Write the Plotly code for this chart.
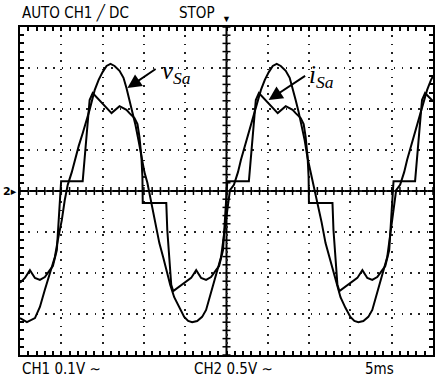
import plotly.graph_objects as go

# ---- data (time in ms, amplitude in screen divisions) ----
t_v = [0.00, 0.84, 1.81, 2.41, 3.01, 3.61, 4.22, 4.58, 5.06, 5.42, 5.78, 6.27, 6.63, 7.11, 7.59, 8.07,
       8.43, 9.04, 9.52, 10.00, 10.48, 10.96, 11.45, 12.05, 12.53, 12.89, 13.25, 13.61, 13.98, 14.34,
       14.70, 15.06, 15.42, 15.78, 16.02, 16.39, 16.87, 17.35, 17.71, 18.19, 18.67, 19.28, 19.88,
       20.36, 20.84, 21.45, 22.05, 22.53, 23.13, 23.73, 24.34, 24.70, 25.06, 25.42,
       25.90, 26.39, 26.75, 27.23, 27.71, 28.19, 28.55, 29.16, 29.64, 30.12, 30.60, 31.08, 31.57,
       32.17, 32.65, 33.01, 33.37, 33.73, 34.10, 34.46, 34.82, 35.18, 35.54, 35.90, 36.14, 36.51,
       36.99, 37.47, 37.83, 38.31, 38.80, 39.40, 40.00, 40.48, 40.96, 41.57, 42.17, 42.65, 43.25,
       43.86, 44.46, 44.82, 45.18, 45.54, 46.02, 46.51, 46.87, 47.35, 47.83, 48.31, 48.67, 49.28,
       49.76, 50.00]
v_sa = [-3.10, -3.20, -3.10, -2.83, -2.41, -1.98, -1.61, -1.20, -0.71, -0.22, 0.15, 0.46, 0.76, 1.10,
        1.41, 1.73, 1.98, 2.46, 2.71, 2.90, 3.05, 3.10, 3.05, 2.93, 2.76, 2.51, 2.22, 1.93, 1.61, 1.24,
        0.80, 0.46, 0.20, -0.15, -0.41, -0.76, -1.27, -1.63, -1.93, -2.29, -2.59, -2.85, -3.07, -3.17,
        -3.20, -3.17, -3.07, -2.90, -2.46, -2.00, -1.61, -1.07, -0.46, 0.02,
        0.15, 0.46, 0.76, 1.10, 1.41, 1.73, 1.98, 2.46, 2.71, 2.90, 3.05, 3.10, 3.05, 2.93, 2.76, 2.51,
        2.22, 1.93, 1.61, 1.24, 0.80, 0.46, 0.20, -0.15, -0.41, -0.76, -1.27, -1.63, -1.93, -2.29,
        -2.59, -2.85, -3.07, -3.17, -3.20, -3.17, -3.07, -2.90, -2.46, -2.00, -1.61, -1.07, -0.46, 0.02,
        0.15, 0.46, 0.76, 1.10, 1.41, 1.73, 1.98, 2.46, 2.71, 2.80]

t_i = [0.00, 0.60, 1.20, 1.81, 2.41, 3.01, 3.61, 3.98, 4.46, 4.70, 4.94, 4.98, 7.59, 7.71, 7.95, 8.19,
       8.43, 8.80, 11.08, 12.05, 12.89, 13.25, 13.86, 14.22, 14.46, 14.70, 14.82, 14.86, 17.71, 17.83,
       18.07, 18.31, 18.55, 19.88, 20.72, 21.33, 21.93, 22.53, 23.13, 23.73, 24.10, 24.58, 24.82,
       25.06, 25.10, 27.71, 27.83, 28.07, 28.31, 28.55, 28.92, 31.20, 32.17, 33.01, 33.37, 33.98,
       34.34, 34.58, 34.82, 34.94, 34.98, 37.83, 37.95, 38.19, 38.43, 38.67, 40.00, 40.84, 41.45,
       42.05, 42.65, 43.25, 43.86, 44.22, 44.70, 44.94, 45.18, 45.22, 47.83, 47.95, 48.19, 48.43,
       48.67, 49.04, 50.00]
i_sa = [-2.24, -2.12, -1.93, -2.12, -2.17, -2.10, -1.93, -1.83, -1.44, -0.78, 0.02, 0.24, 0.24, 0.51,
        1.00, 1.73, 2.22, 2.39, 1.90, 2.07, 1.98, 1.90, 1.78, 1.63, 1.32, 0.83, 0.34, -0.29, -0.29,
        -0.95, -1.68, -2.29, -2.44, -2.24, -2.12, -1.93, -2.12, -2.17, -2.10, -1.93, -1.83, -1.44,
        -0.78, 0.02, 0.24, 0.24, 0.51, 1.00, 1.73, 2.22, 2.39, 1.90, 2.07, 1.98, 1.90, 1.78, 1.63,
        1.32, 0.83, 0.34, -0.29, -0.29, -0.95, -1.68, -2.29, -2.44, -2.24, -2.12, -1.93, -2.12, -2.17,
        -2.10, -1.93, -1.83, -1.44, -0.78, 0.02, 0.24, 0.24, 0.51, 1.00, 1.73, 2.22, 2.39, 2.19]

# label arrows: tail (ax, ay) -> head (x, y)
arrow_v = dict(ax=16.6, ay=3.00, x=13.0, y=2.51)
arrow_i = dict(ax=34.7, ay=2.83, x=30.1, y=2.22)

x_range = [0, 50]      # 10 div x 5 ms
y_range = [-4, 4]      # 8 div
x_minor = [i * 1.0 for i in range(0, 51)]
y_minor = [-4 + i * 0.2 for i in range(0, 41)]

top_left_text = "AUTO CH1 \u2571 DC"
top_mid_text = "STOP"
ch1_text = "CH1 0.1V \u223c"
ch2_text = "CH2 0.5V \u223c"
time_text = "5ms"

fig = go.Figure()
fig.add_trace(go.Scatter(x=t_v, y=v_sa, mode="lines", line=dict(color="black", width=2),
                         showlegend=False, hoverinfo="skip"))
fig.add_trace(go.Scatter(x=t_i, y=i_sa, mode="lines", line=dict(color="black", width=2),
                         showlegend=False, hoverinfo="skip"))

scope_font = dict(family="DejaVu Sans Condensed, Liberation Sans Narrow, DejaVu Sans, sans-serif",
                  size=15, color="black")

axis_common = dict(showline=True, linecolor="black", linewidth=2, mirror="ticks",
                   ticks="inside", ticklen=4, tickcolor="black", tickwidth=1.5,
                   showticklabels=False, zeroline=False,
                   showgrid=True, gridcolor="#222", gridwidth=1.6, griddash="1.6px,6.7px")

fig.update_xaxes(range=x_range, dtick=5, tick0=0,
                 minor=dict(dtick=1, ticks="inside", ticklen=4, tickcolor="black", tickwidth=1.5,
                            showgrid=False),
                 **axis_common)
fig.update_yaxes(range=y_range, dtick=1, tick0=0,
                 minor=dict(dtick=0.2, ticks="inside", ticklen=4, tickcolor="black", tickwidth=1.5,
                            showgrid=False),
                 **axis_common)

shapes = []
shapes.append(dict(type="line", xref="x", yref="y", x0=x_range[0], x1=x_range[1], y0=0, y1=0,
                   line=dict(color="black", width=2), layer="below"))
shapes.append(dict(type="line", xref="x", yref="y", x0=25, x1=25, y0=y_range[0], y1=y_range[1],
                   line=dict(color="black", width=2), layer="below"))
for xv in x_minor:
    shapes.append(dict(type="line", xref="x", yref="y", ysizemode="pixel", yanchor=0,
                       x0=xv, x1=xv, y0=-4, y1=4, line=dict(color="black", width=1.5), layer="below"))
for yv in y_minor:
    shapes.append(dict(type="line", xref="x", yref="y", xsizemode="pixel", xanchor=25,
                       x0=-4, x1=4, y0=yv, y1=yv, line=dict(color="black", width=1.5), layer="below"))

label_font = dict(family="Liberation Serif, Times New Roman, serif", size=25, color="black")
annotations = [
    dict(text=top_left_text, xref="paper", yref="paper", x=0.0, y=1.043, xanchor="left",
         yanchor="middle", showarrow=False, font=scope_font),
    dict(text=top_mid_text, xref="paper", yref="paper", x=0.381, y=1.043, xanchor="left",
         yanchor="middle", showarrow=False, font=scope_font),
    dict(text=ch1_text, xref="paper", yref="paper", x=0.0, y=-0.043, xanchor="left",
         yanchor="middle", showarrow=False, font=scope_font),
    dict(text=ch2_text, xref="paper", yref="paper", x=0.417, y=-0.043, xanchor="left",
         yanchor="middle", showarrow=False, font=scope_font),
    dict(text=time_text, xref="paper", yref="paper", x=0.831, y=-0.043, xanchor="left",
         yanchor="middle", showarrow=False, font=scope_font),
    dict(text="\u25bc", xref="x", yref="paper", x=25, y=1.0, xanchor="center", yanchor="bottom",
         showarrow=False, font=dict(size=9, color="black")),
    dict(text="<b>2</b>\u25b8", xref="paper", yref="y", x=-0.002, y=0, xanchor="right",
         yanchor="middle", showarrow=False, font=dict(size=11, color="black", family="DejaVu Sans")),
    dict(text="<i>v</i><sub><i>Sa</i></sub>", xref="x", yref="y", x=17.0, y=2.90, xanchor="left",
         yanchor="middle", showarrow=False, font=label_font),
    dict(text="<i>i</i><sub><i>Sa</i></sub>", xref="x", yref="y", x=34.8, y=2.80, xanchor="left",
         yanchor="middle", showarrow=False, font=label_font),
]
for arr in (arrow_v, arrow_i):
    annotations.append(dict(text="", xref="x", yref="y", axref="x", ayref="y",
                            x=arr["x"], y=arr["y"], ax=arr["ax"], ay=arr["ay"],
                            showarrow=True, arrowhead=2, arrowsize=1.4, arrowwidth=2,
                            arrowcolor="black"))

fig.update_layout(width=438, height=382, margin=dict(l=20, r=3, t=27, b=27),
                  paper_bgcolor="white", plot_bgcolor="white",
                  shapes=shapes, annotations=annotations, showlegend=False)

fig.write_html("out.html", config={"displayModeBar": False},
               post_script="document.body.style.margin='0px';")
